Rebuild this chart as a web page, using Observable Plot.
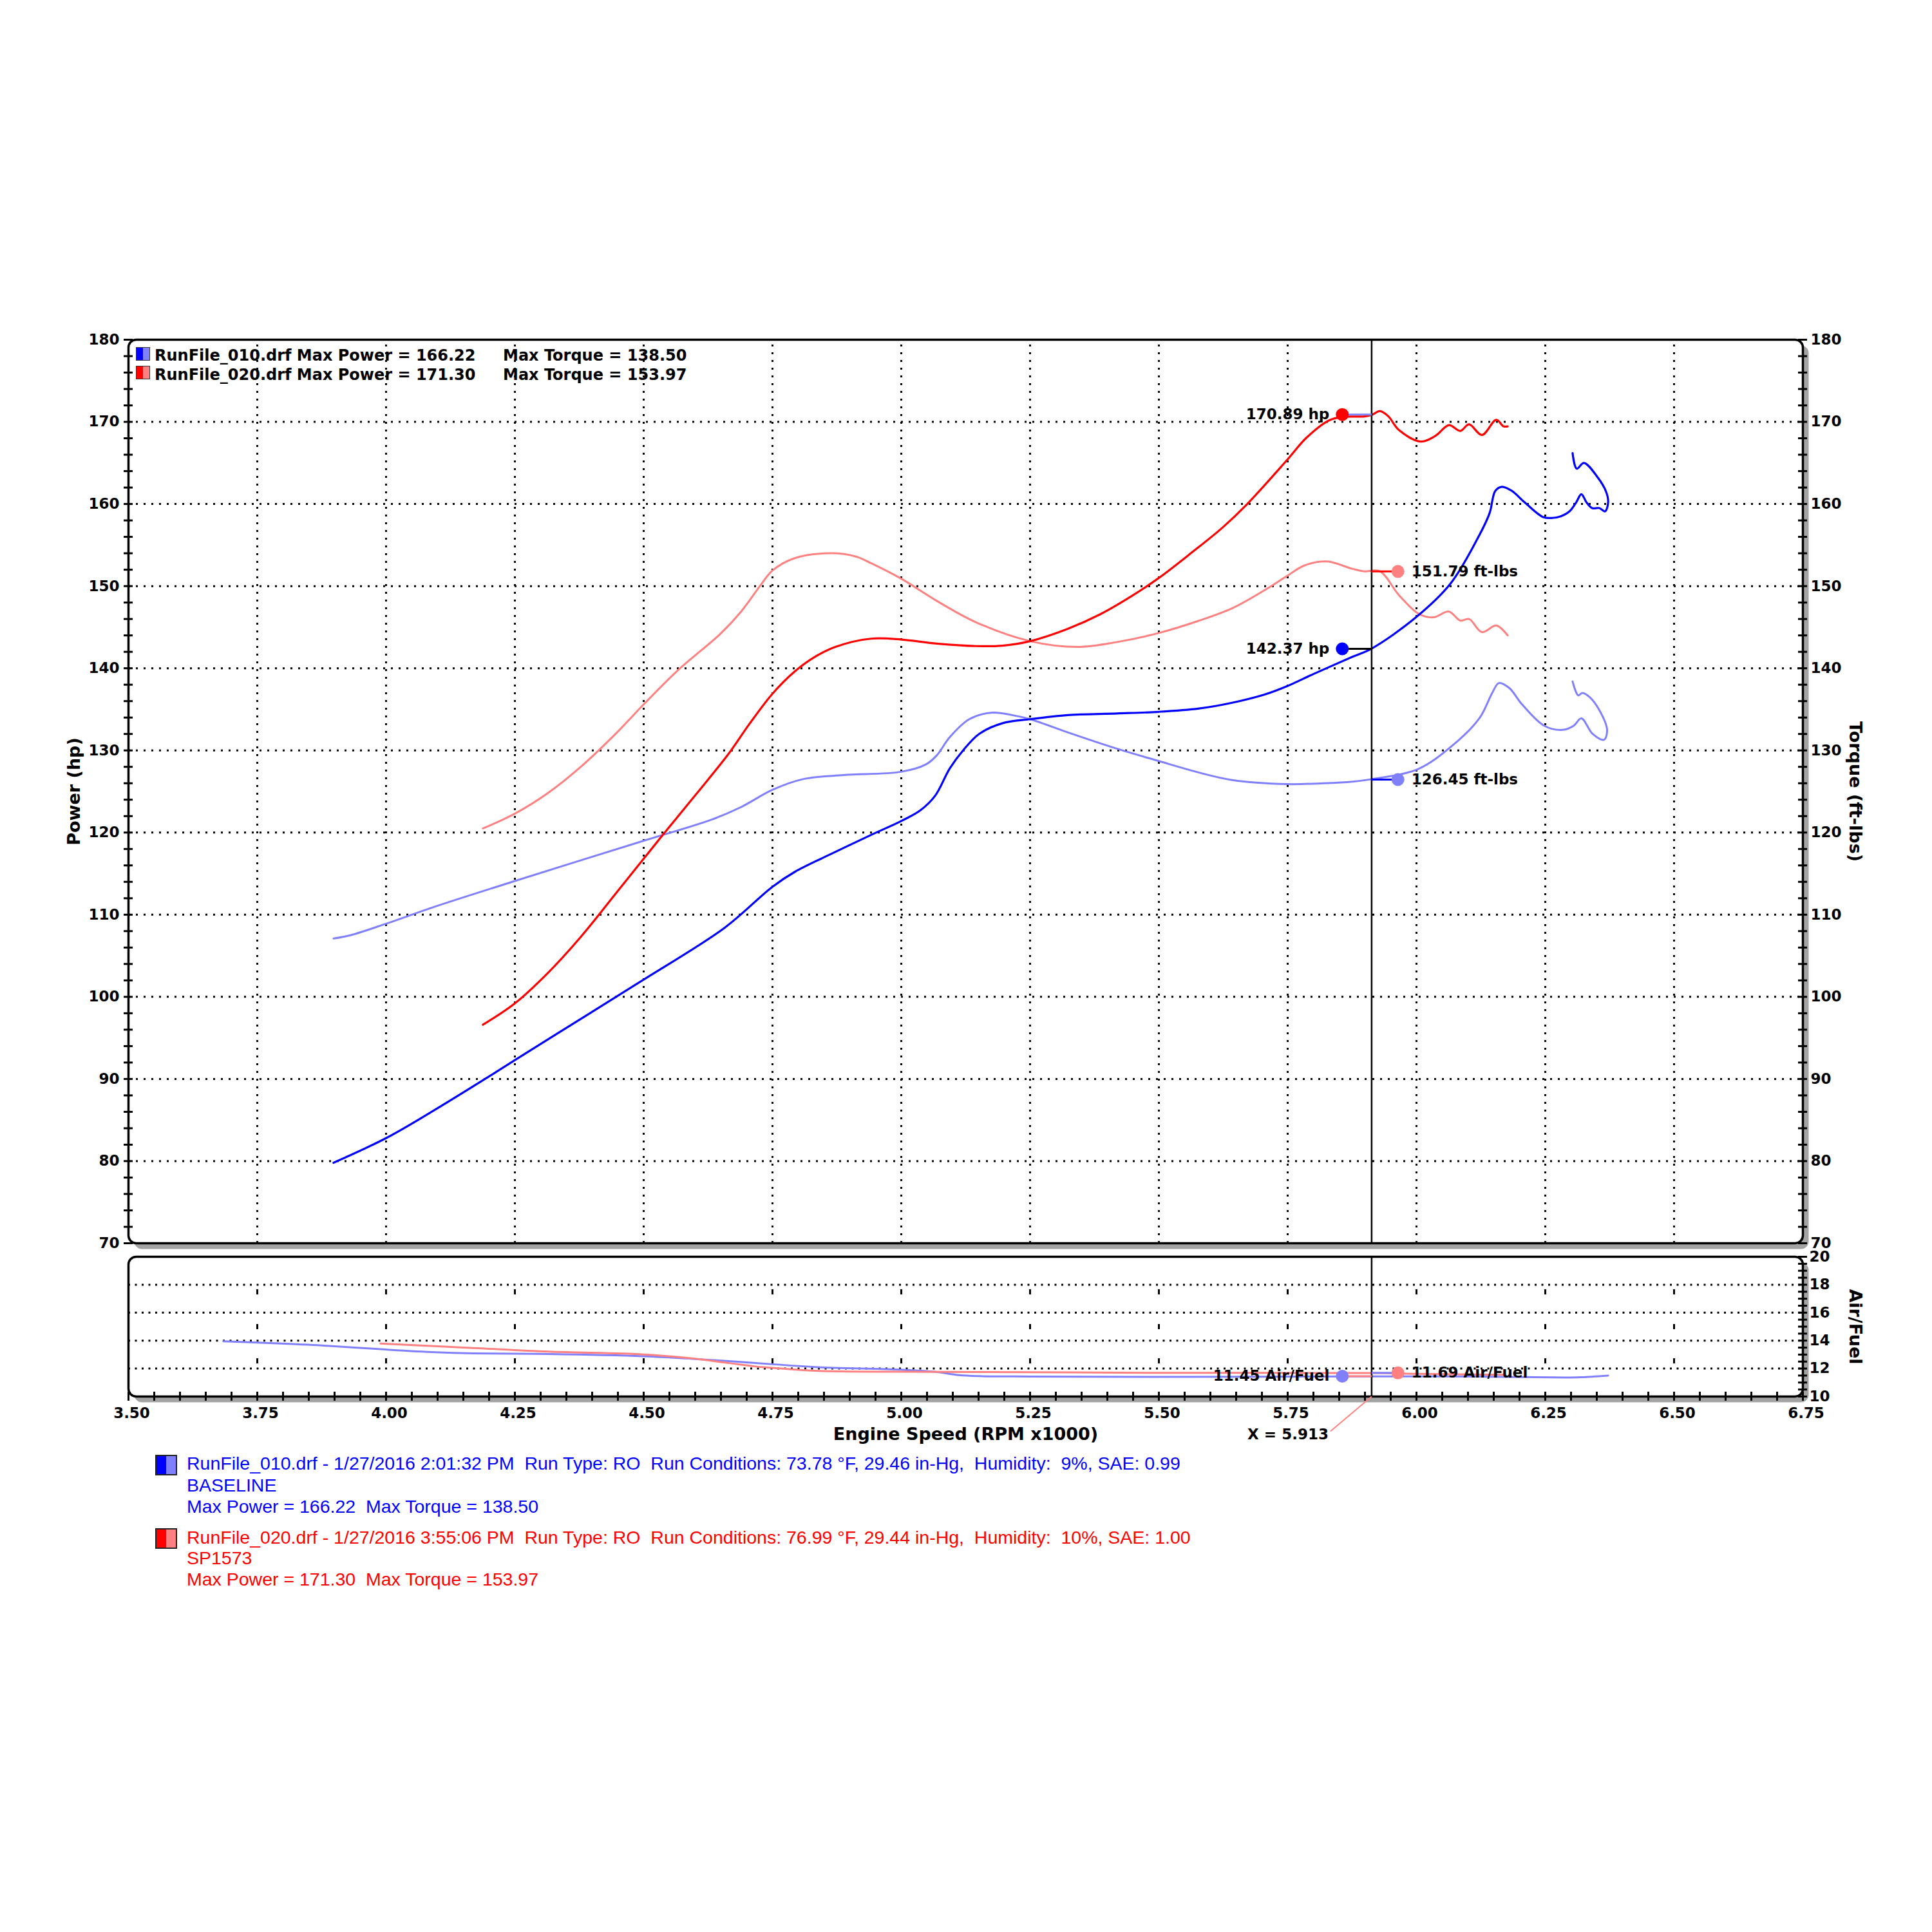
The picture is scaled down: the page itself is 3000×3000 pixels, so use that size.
<!DOCTYPE html>
<html><head><meta charset="utf-8">
<script src="https://cdn.jsdelivr.net/npm/d3@7"></script>
<script src="https://cdn.jsdelivr.net/npm/@observablehq/plot@0.6"></script>
<style>
body{margin:0;background:#fff;}
#wrap{position:relative;width:3000px;height:3000px;background:#fff;overflow:hidden;}
.abs{position:absolute;white-space:pre;}
.leg{font-family:"DejaVu Sans",sans-serif;font-weight:bold;font-size:24px;line-height:30px;color:#000;}
.foot{font-family:"Liberation Sans Narrow","Arial Narrow","Liberation Sans",sans-serif;font-stretch:condensed;font-size:28.5px;line-height:33px;}
.sw{position:absolute;width:20px;height:19px;border:1.5px solid #333;}
.swf{position:absolute;width:30px;height:28px;border:2.5px solid #222;}
</style></head><body><div id="wrap"></div>
<script>
// ---------- data (rpm x1000, value) ----------
const bluePower = [[3.898,79.8],[4.0,82.8],[4.091,86.1],[4.187,89.8],[4.25,92.3],[4.37,97.0],[4.5,102.1],[4.657,108.4],[4.75,113.4],[4.793,115.2],[4.864,117.4],[4.941,119.7],[5.0,121.4],[5.037,122.7],[5.066,124.5],[5.094,127.8],[5.12,130.0],[5.151,132.0],[5.196,133.3],[5.25,133.8],[5.323,134.3],[5.419,134.5],[5.5,134.7],[5.578,135.1],[5.642,135.8],[5.705,136.8],[5.748,137.8],[5.8,139.3],[5.876,141.4],[5.913,142.4],[5.999,146.2],[6.066,150.3],[6.122,156.2],[6.142,158.9],[6.153,161.6],[6.166,162.1],[6.185,161.6],[6.21,160.2],[6.246,158.4],[6.264,158.3],[6.28,158.5],[6.297,159.1],[6.31,160.2],[6.32,161.2],[6.33,160.2],[6.341,159.5],[6.355,159.5],[6.366,159.1],[6.372,160.2],[6.368,161.5],[6.351,163.3],[6.325,165.0],[6.311,164.3],[6.303,166.2]];
const blueTorque = [[3.898,107.1],[3.931,107.5],[4.0,108.9],[4.091,110.9],[4.25,114.1],[4.5,119.0],[4.633,121.6],[4.689,123.1],[4.75,125.2],[4.809,126.5],[4.888,127.0],[5.0,127.4],[5.048,128.3],[5.069,129.4],[5.094,131.6],[5.132,133.8],[5.177,134.6],[5.215,134.3],[5.25,133.8],[5.323,132.2],[5.419,130.2],[5.5,128.7],[5.578,127.3],[5.642,126.4],[5.748,125.9],[5.82,126.0],[5.876,126.2],[5.913,126.5],[6.002,127.7],[6.066,130.4],[6.122,133.9],[6.147,137.0],[6.16,138.2],[6.18,137.6],[6.205,135.6],[6.248,133.0],[6.284,132.5],[6.305,133.0],[6.32,133.9],[6.342,132.0],[6.364,131.3],[6.37,132.5],[6.355,134.9],[6.336,136.5],[6.322,137.0],[6.314,136.7],[6.303,138.4]];
const redPower = [[4.188,96.6],[4.25,99.2],[4.314,102.9],[4.378,107.3],[4.45,112.9],[4.537,119.7],[4.601,124.6],[4.665,129.6],[4.705,133.2],[4.75,136.9],[4.793,139.6],[4.83,141.3],[4.872,142.6],[4.941,143.6],[5.0,143.5],[5.069,143.0],[5.145,142.7],[5.196,142.75],[5.25,143.3],[5.323,144.8],[5.387,146.6],[5.45,148.9],[5.5,151.0],[5.564,154.1],[5.623,157.1],[5.67,159.9],[5.748,165.3],[5.787,168.1],[5.831,170.2],[5.856,170.6],[5.899,170.66],[5.913,170.84],[5.929,171.3],[5.945,170.7],[5.966,169.0],[6.008,167.6],[6.037,168.3],[6.063,169.6],[6.085,168.9],[6.102,169.7],[6.127,168.4],[6.155,170.25],[6.169,169.45],[6.177,169.45]];
const redTorque = [[4.188,120.5],[4.25,122.3],[4.314,124.8],[4.378,128.0],[4.45,132.3],[4.5,135.6],[4.569,139.9],[4.649,144.2],[4.689,146.9],[4.729,150.3],[4.75,151.9],[4.793,153.4],[4.864,154.0],[4.912,153.6],[4.941,152.8],[5.0,150.9],[5.069,148.2],[5.145,145.6],[5.25,143.3],[5.342,142.6],[5.419,143.2],[5.5,144.3],[5.578,145.8],[5.642,147.3],[5.705,149.5],[5.748,151.2],[5.782,152.5],[5.826,153.0],[5.876,152.1],[5.899,151.8],[5.929,151.8],[5.966,148.9],[6.005,146.6],[6.033,146.2],[6.063,146.9],[6.085,145.8],[6.102,146.0],[6.127,144.4],[6.155,145.2],[6.177,144.0]];
const blueAfr = [[3.684,13.95],[3.75,13.86],[3.867,13.67],[4.0,13.36],[4.096,13.17],[4.168,13.09],[4.315,13.04],[4.5,12.88],[4.594,12.7],[4.674,12.51],[4.75,12.31],[4.833,12.11],[5.0,11.92],[5.065,11.77],[5.112,11.53],[5.152,11.46],[5.25,11.43],[5.5,11.4],[5.913,11.44],[6.1,11.43],[6.29,11.36],[6.32,11.38],[6.372,11.5]];
const redAfr = [[3.989,13.79],[4.17,13.47],[4.315,13.21],[4.5,13.01],[4.594,12.73],[4.666,12.39],[4.714,12.16],[4.75,12.05],[4.833,11.84],[5.0,11.77],[5.25,11.74],[5.5,11.69],[5.913,11.68],[6.0,11.62],[6.17,11.55]];

const cursorRpm = [5.913];
const hpReadings = [170.89, 142.37];        // red, blue
const torqueReadings = [151.79, 126.45];    // red, blue
const afrReadings = [11.45, 11.69];         // blue, red
const readoutRpmLeft = [5.856];
const readoutRpmRight = [5.964];

const rpmTicks = [3.5,3.75,4.0,4.25,4.5,4.75,5.0,5.25,5.5,5.75,6.0,6.25,6.5,6.75];
const powerTicks = [70,80,90,100,110,120,130,140,150,160,170,180];
const afrTicks = [10,12,14,16,18,20];

const topLegend = [
  ["RunFile_010.drf Max Power = 166.22", "Max Torque = 138.50"],
  ["RunFile_020.drf Max Power = 171.30", "Max Torque = 153.97"]
];
const footBlue = ["RunFile_010.drf - 1/27/2016 2:01:32 PM  Run Type: RO  Run Conditions: 73.78 °F, 29.46 in-Hg,  Humidity:  9%, SAE: 0.99", "BASELINE", "Max Power = 166.22  Max Torque = 138.50"];
const footRed = ["RunFile_020.drf - 1/27/2016 3:55:06 PM  Run Type: RO  Run Conditions: 76.99 °F, 29.44 in-Hg,  Humidity:  10%, SAE: 1.00", "SP1573", "Max Power = 171.30  Max Torque = 153.97"];

// ---------- styling ----------
const BLUE = "#0000ff", LBLUE = "#8080ff", RED = "#ff0000", LRED = "#ff8080";
const F = "DejaVu Sans";
const rpmGrid = rpmTicks.slice(1, -1);
const powerGrid = powerTicks.slice(1, -1);
const afrGrid = afrTicks.slice(1, -1);
const powerMinor = d3.range(70, 180.01, 2);
const afrMinor = d3.range(10, 20.01, 0.5);
const rpmMinor = d3.range(3.5, 6.7501, 0.05);
const pxPerRpm = (3000 - 199 - 201) / 3.25;
const th = 7 / pxPerRpm;
const X = d => d[0], Y = d => d[1];
const svgStyle = "max-width:none;background:transparent;overflow:visible;font-family:'DejaVu Sans';font-size:23px;font-weight:bold;color:black;";

const wrap = document.getElementById("wrap");
function place(el, left, top) {
  const d = document.createElement("div");
  d.style.position = "absolute"; d.style.left = left + "px"; d.style.top = top + "px"; d.style.width = "3000px";
  d.appendChild(el); wrap.appendChild(d);
}

const main = Plot.plot({
  width: 3000, height: 1945,
  marginLeft: 199, marginRight: 201, marginTop: 527, marginBottom: 15,
  x: {domain: [3.5, 6.75], axis: null},
  y: {domain: [70, 180], axis: null},
  style: svgStyle,
  marks: [
    Plot.frame({fill: "#a3a3a3", stroke: "none", rx: 12, dx: 9, dy: 9}),
    Plot.frame({fill: "white", stroke: "none", rx: 12}),
    Plot.ruleY(powerGrid, {stroke: "black", strokeWidth: 3, strokeDasharray: "3,9"}),
    Plot.ruleX(rpmGrid, {y1: 70, y2: 180, stroke: "black", strokeWidth: 3, strokeDasharray: "3,9"}),
    Plot.line(blueTorque, {x: X, y: Y, stroke: LBLUE, strokeWidth: 3, curve: "catmull-rom"}),
    Plot.line(redTorque, {x: X, y: Y, stroke: LRED, strokeWidth: 3, curve: "catmull-rom"}),
    Plot.line(bluePower, {x: X, y: Y, stroke: BLUE, strokeWidth: 3.2, curve: "catmull-rom"}),
    Plot.line(redPower, {x: X, y: Y, stroke: RED, strokeWidth: 3.2, curve: "catmull-rom"}),
    Plot.ruleX(cursorRpm, {y1: 70, y2: 180, stroke: "black", strokeWidth: 2.5}),
    // readout connectors
    Plot.link([hpReadings[0]], {x1: cursorRpm[0], x2: readoutRpmLeft[0], y1: d => d, y2: d => d, stroke: LBLUE, strokeWidth: 3}),
    Plot.link([hpReadings[1]], {x1: cursorRpm[0], x2: readoutRpmLeft[0], y1: d => d, y2: d => d, stroke: "black", strokeWidth: 3}),
    Plot.link([torqueReadings[0]], {x1: cursorRpm[0], x2: readoutRpmRight[0], y1: d => d, y2: d => d, stroke: RED, strokeWidth: 3}),
    Plot.link([torqueReadings[1]], {x1: cursorRpm[0], x2: readoutRpmRight[0], y1: d => d, y2: d => d, stroke: BLUE, strokeWidth: 3}),
    Plot.dot([hpReadings[0]], {x: readoutRpmLeft[0], y: d => d, r: 10, fill: RED}),
    Plot.dot([hpReadings[1]], {x: readoutRpmLeft[0], y: d => d, r: 10, fill: BLUE}),
    Plot.dot([torqueReadings[0]], {x: readoutRpmRight[0], y: d => d, r: 10, fill: LRED}),
    Plot.dot([torqueReadings[1]], {x: readoutRpmRight[0], y: d => d, r: 10, fill: LBLUE}),
    Plot.text(hpReadings, {x: readoutRpmLeft[0], y: d => d, text: d => d.toFixed(2) + " hp", textAnchor: "end", dx: -20, fontFamily: F, fontWeight: "bold", fontSize: 23, fill: "black"}),
    Plot.text(torqueReadings, {x: readoutRpmRight[0], y: d => d, text: d => d.toFixed(2) + " ft-lbs", textAnchor: "start", dx: 21, fontFamily: F, fontWeight: "bold", fontSize: 23, fill: "black"}),
    Plot.frame({stroke: "black", strokeWidth: 3.5, rx: 12}),
    Plot.ruleY(powerMinor, {y: d => d, x1: 3.5 - th, x2: 3.5 + th, stroke: "black", strokeWidth: 3}),
    Plot.ruleY(powerMinor, {y: d => d, x1: 6.75 - th, x2: 6.75 + th, stroke: "black", strokeWidth: 3}),
    Plot.axisY(powerTicks, {anchor: "left", tickSize: 0, tickPadding: 14, label: null, fontSize: 23, fontWeight: "bold", fontFamily: F}),
    Plot.axisY(powerTicks, {anchor: "right", tickSize: 0, tickPadding: 12, label: null, fontSize: 23, fontWeight: "bold", fontFamily: F}),
    Plot.text(["Power (hp)"], {frameAnchor: "left", dx: -84, rotate: -90, textAnchor: "middle", lineAnchor: "middle", text: d => d, fontSize: 27, fontWeight: "bold", fontFamily: F}),
    Plot.text(["Torque (ft-lbs)"], {frameAnchor: "right", dx: 81, rotate: 90, textAnchor: "middle", lineAnchor: "middle", text: d => d, fontSize: 27, fontWeight: "bold", fontFamily: F})
  ]
});
place(main, 0, 0);

const afrH = 2168 - 1951;
const afrPx = afrH / 10;
const afr = Plot.plot({
  width: 3000, height: 330,
  marginLeft: 199, marginRight: 201, marginTop: 11, marginBottom: 330 - 11 - afrH,
  x: {domain: [3.5, 6.75], axis: null},
  y: {domain: [10, 20], axis: null},
  style: svgStyle,
  marks: [
    Plot.frame({fill: "#a3a3a3", stroke: "none", rx: 12, dx: 9, dy: 9}),
    Plot.frame({fill: "white", stroke: "none", rx: 12}),
    Plot.ruleY(afrGrid, {stroke: "black", strokeWidth: 3, strokeDasharray: "3,7.5"}),
    Plot.ruleX(d3.cross(rpmGrid, [12.53, 14.98, 17.47]), {x: d => d[0], y1: d => d[1] - 4 / afrPx, y2: d => d[1] + 4 / afrPx, stroke: "black", strokeWidth: 3}),
    Plot.line(blueAfr, {x: X, y: Y, stroke: LBLUE, strokeWidth: 3, curve: "catmull-rom"}),
    Plot.line(redAfr, {x: X, y: Y, stroke: LRED, strokeWidth: 3, curve: "catmull-rom"}),
    Plot.ruleX(cursorRpm, {y1: 10, y2: 20, stroke: "black", strokeWidth: 2.5}),
    Plot.link([afrReadings[0]], {x1: cursorRpm[0], x2: readoutRpmLeft[0], y1: d => d, y2: d => d, stroke: LRED, strokeWidth: 3}),
    Plot.link([afrReadings[1]], {x1: cursorRpm[0], x2: readoutRpmRight[0], y1: d => d, y2: d => d, stroke: LBLUE, strokeWidth: 3}),
    Plot.dot([afrReadings[0]], {x: readoutRpmLeft[0], y: d => d, r: 10, fill: LBLUE}),
    Plot.dot([afrReadings[1]], {x: readoutRpmRight[0], y: d => d, r: 10, fill: LRED}),
    Plot.text([afrReadings[0]], {x: readoutRpmLeft[0], y: d => d, text: d => d.toFixed(2) + " Air/Fuel", textAnchor: "end", dx: -20, fontFamily: F, fontWeight: "bold", fontSize: 23, fill: "black"}),
    Plot.text([afrReadings[1]], {x: readoutRpmRight[0], y: d => d, text: d => d.toFixed(2) + " Air/Fuel", textAnchor: "start", dx: 21, fontFamily: F, fontWeight: "bold", fontSize: 23, fill: "black"}),
    Plot.frame({stroke: "black", strokeWidth: 3.5, rx: 12}),
    Plot.ruleX(rpmMinor, {x: d => d, y1: 10 - 7 / afrPx, y2: 10 + 7 / afrPx, stroke: "black", strokeWidth: 3}),
    Plot.ruleY(afrMinor, {y: d => d, x1: 6.75 - th, x2: 6.75 + th, stroke: "black", strokeWidth: 3}),
    Plot.axisX(rpmTicks, {anchor: "bottom", tickSize: 0, tickPadding: 17, dx: 5, label: null, tickFormat: d => d.toFixed(2), fontSize: 23, fontWeight: "bold", fontFamily: F}),
    Plot.axisY(afrTicks, {anchor: "right", tickSize: 0, tickPadding: 10, label: null, fontSize: 23, fontWeight: "bold", fontFamily: F}),
    Plot.text(["Air/Fuel"], {frameAnchor: "right", dx: 81, rotate: 90, textAnchor: "middle", lineAnchor: "middle", text: d => d, fontSize: 27, fontWeight: "bold", fontFamily: F}),
    Plot.text(["Engine Speed (RPM x1000)"], {frameAnchor: "bottom", dy: 59, textAnchor: "middle", lineAnchor: "middle", text: d => d, fontSize: 27, fontWeight: "bold", fontFamily: F}),
    Plot.text(cursorRpm, {x: d => d, y: 10, dx: -67, dy: 59, textAnchor: "end", lineAnchor: "middle", text: d => "X = " + d.toFixed(3), fontSize: 23, fontWeight: "bold", fontFamily: F}),
    Plot.link(cursorRpm, {x1: d => d, y1: 10, x2: d => d - 64 / pxPerRpm, y2: 10 - 54 / afrPx, stroke: LRED, strokeWidth: 2})
  ]
});
place(afr, 0, 1940);

// top-left legend inside main frame
function swatch(cls, left, top, dark, light) {
  const s = document.createElement("div");
  s.className = cls; s.style.left = left + "px"; s.style.top = top + "px";
  s.style.background = `linear-gradient(to right, ${dark} 50%, ${light} 50%)`;
  wrap.appendChild(s);
}
function txt(cls, left, top, str, color) {
  const t = document.createElement("div");
  t.className = "abs " + cls; t.style.left = left + "px"; t.style.top = top + "px";
  if (color) t.style.color = color;
  t.textContent = str; wrap.appendChild(t);
  return t;
}
swatch("sw", 211, 539, BLUE, LBLUE);
swatch("sw", 211, 568, RED, LRED);
topLegend.forEach((row, i) => {
  txt("leg", 240, 537 + i * 30, row[0]);
  txt("leg", 781, 537 + i * 30, row[1]);
});

// footer legend
swatch("swf", 241, 2259, BLUE, LBLUE);
swatch("swf", 241, 2373, RED, LRED);
const footTopsBlue = [2256, 2290, 2323];
const footTopsRed = [2371, 2403, 2436];
footBlue.forEach((s, i) => txt("foot", 290, footTopsBlue[i], s, BLUE));
footRed.forEach((s, i) => txt("foot", 290, footTopsRed[i], s, RED));
</script>
</body></html>
